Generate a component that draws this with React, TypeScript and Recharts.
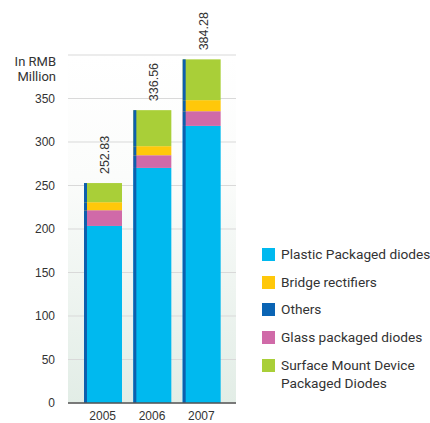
import React from 'react';
import {
  BarChart,
  Bar,
  XAxis,
  YAxis,
  CartesianGrid,
  LabelList,
} from 'recharts';

// values (RMB million)
const years = ['2005', '2006', '2007'];
const plastic = [203.5, 270.2, 318.5];
const glass = [18.1, 14.6, 16.9];
const bridge = [9.2, 10.4, 12.7];
const others = [0, 0, 0];
const smd = [22.0, 41.4, 46.9];
const totals = ['252.83', '336.56', '384.28'];
const yTicks = [0, 50, 100, 150, 200, 250, 300, 350];

const series = [
  { key: 'plastic', name: 'Plastic Packaged diodes', color: '#00b9ef' },
  { key: 'bridge', name: 'Bridge rectifiers', color: '#ffc80a' },
  { key: 'others', name: 'Others', color: '#0a64b4' },
  { key: 'glass', name: 'Glass packaged diodes', color: '#d06aa8' },
  { key: 'smd', name: 'Surface Mount Device\nPackaged Diodes', color: '#a9cf38' },
];

const data = years.map((year, i) => ({
  year,
  plastic: plastic[i],
  glass: glass[i],
  bridge: bridge[i],
  others: others[i],
  smd: smd[i],
  total: totals[i],
}));

const FONT = 'Roboto, "Open Sans", sans-serif';
const NUM_FONT = '"Liberation Sans", Arial, sans-serif';

// bar segment with the dark blue strip on its left edge
const StripShape = (props: any) => {
  const { x, y, width, height, fill } = props;
  if (!height || height <= 0) return null;
  return (
    <g>
      <rect x={x} y={y} width={width} height={height} fill={fill} />
      <rect x={x} y={y} width={3} height={height} fill="#0d5fad" />
    </g>
  );
};

const TotalLabel = (props: any) => {
  const { x, y, width, value } = props;
  const cx = x + width / 2 + 2;
  const ty = y - 9;
  return (
    <text
      x={cx}
      y={ty}
      transform={`rotate(-90 ${cx} ${ty})`}
      textAnchor="start"
      dominantBaseline="central"
      fontSize={12.5}
      fontFamily={NUM_FONT}
      fill="#333"
    >
      {value}
    </text>
  );
};

const order = ['plastic', 'glass', 'bridge', 'others', 'smd'];

export default function App() {
  return (
    <div style={{ position: 'absolute', left: 0, top: 0, width: 430, height: 423, background: '#fff', fontFamily: FONT }}>
      <div style={{ position: 'absolute', left: 0, top: 54, width: 56, textAlign: 'right', fontSize: 13, lineHeight: '15px', color: '#333' }}>
        <div>In RMB</div>
        <div>Million</div>
      </div>
      <BarChart
        width={430}
        height={423}
        data={data}
        margin={{ top: 55, right: 194, bottom: 0, left: 0 }}
        barSize={38}
      >
        <defs>
          <linearGradient id="plotBg" x1="0" y1="0" x2="0" y2="1">
            <stop offset="0%" stopColor="#ffffff" />
            <stop offset="35%" stopColor="#fbfcfb" />
            <stop offset="100%" stopColor="#e2ede6" />
          </linearGradient>
        </defs>
        <CartesianGrid vertical={false} stroke="#d9d9d9" fill="url(#plotBg)" />
        <XAxis
          dataKey="year"
          height={20}
          padding={{ left: 10, right: 10 }}
          axisLine={{ stroke: '#555', strokeWidth: 1.5 }}
          tickLine={false}
          tickMargin={2}
          tick={{ fontSize: 12, fill: '#333', fontFamily: NUM_FONT }}
        />
        <YAxis
          width={68}
          domain={[0, 400]}
          ticks={yTicks}
          axisLine={false}
          tickLine={false}
          tickMargin={7}
          tick={{ fontSize: 12, fill: '#333', fontFamily: NUM_FONT }}
        />
        {order.map((k) => {
          const s = series.find((d) => d.key === k)!;
          return (
            <Bar
              key={k}
              dataKey={k}
              stackId="a"
              fill={s.color}
              shape={StripShape}
              isAnimationActive={false}
            >
              {k === 'smd' && <LabelList dataKey="total" content={TotalLabel} />}
            </Bar>
          );
        })}
      </BarChart>
      <div style={{ position: 'absolute', left: 262, top: 245.3, width: 168, fontSize: 13.7, color: '#333' }}>
        {series.map((s) => (
          <div key={s.key} style={{ display: 'flex', alignItems: 'flex-start', height: 27.6 }}>
            <span style={{ width: 13, height: 13, background: s.color, marginTop: 3, marginRight: 6, flexShrink: 0 }} />
            <span style={{ whiteSpace: 'pre', lineHeight: '18px', flexShrink: 0 }}>{s.name}</span>
          </div>
        ))}
      </div>
    </div>
  );
}
